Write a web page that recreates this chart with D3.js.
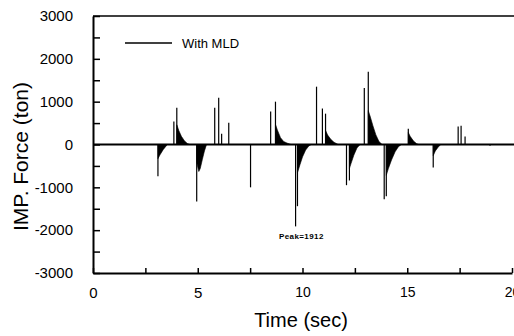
<!DOCTYPE html>
<html>
<head>
<meta charset="utf-8">
<script src="https://cdn.jsdelivr.net/npm/d3@7"></script>
<style>
  body { margin: 0; background: #fff; }
  svg { display: block; font-family: Arial, "Liberation Sans", sans-serif; }
  .axis path, .axis line { stroke: #000; }
  .axis text { font-size: 15px; fill: #000; }
</style>
</head>
<body>
<div id="graph"></div>
<script>
// Impact spikes: time (sec) and peak force (ton)
const spikeTime  = [3.10, 3.86, 4.00, 4.95, 5.81, 6.00, 6.14, 6.48, 7.52, 8.48, 8.71, 9.67, 9.76,
                    10.67, 10.95, 11.10, 12.10, 12.24, 12.95, 13.14, 13.90, 14.00, 15.05, 16.24,
                    17.43, 17.57, 17.76, 18.95];
const spikeForce = [-744, 535, 860, -1330, 860, 1090, 250, 510, -1000, 770, 1000, -1912, -1440,
                    1350, 840, 720, -950, -840, 1320, 1700, -1280, -1210, 370, -535,
                    420, 440, 185, -30];

// Decaying tails after the main impacts, [time, force]
const tail1  = [[3.10, -330], [3.20, -240], [3.35, -120], [3.55, 0]];
const tail2  = [[4.00, 460], [4.10, 320], [4.22, 190], [4.36, 90], [4.50, 25], [4.62, 0]];
const tail3  = [[4.95, -420], [5.05, -630], [5.12, -560], [5.22, -350], [5.32, -150], [5.42, 0]];
const tail4  = [[8.71, 470], [8.80, 340], [8.95, 160], [9.10, 70], [9.28, 30], [9.45, 0]];
const tail5  = [[9.76, -660], [9.88, -470], [10.00, -290], [10.15, -130], [10.30, -35], [10.42, 0]];
const tail6  = [[11.10, 330], [11.20, 220], [11.35, 120], [11.50, 55], [11.70, 0]];
const tail7  = [[12.24, -560], [12.32, -440], [12.45, -250], [12.60, -80], [12.75, 0]];
const tail8  = [[13.14, 790], [13.24, 640], [13.36, 440], [13.50, 230], [13.65, 70], [13.80, 0]];
const tail9  = [[14.00, -720], [14.10, -560], [14.25, -360], [14.42, -170], [14.58, -50], [14.72, 0]];
const tail10 = [[15.05, 280], [15.14, 190], [15.30, 80], [15.45, 20], [15.55, 0]];
const tail11 = [[16.24, -260], [16.34, -150], [16.48, -60], [16.60, 0]];
const tails = [tail1, tail2, tail3, tail4, tail5, tail6, tail7, tail8, tail9, tail10, tail11];

// Axis ticks
const xTicks = [0, 2.5, 5, 7.5, 10, 12.5, 15, 17.5, 20];
const xLabels = [0, 5, 10, 15, 20];
const yTicks = [-3000, -2500, -2000, -1500, -1000, -500, 0, 500, 1000, 1500, 2000, 2500, 3000];
const yLabels = [-3000, -2000, -1000, 0, 1000, 2000, 3000];

const width = 514;
const height = 336;
const margin = { top: 16, right: 2, bottom: 63, left: 93 };
const graphWidth = width - margin.left - margin.right;
const graphHeight = height - margin.top - margin.bottom;

const svg = d3.select('#graph')
  .append('svg')
  .attr('width', width)
  .attr('height', height);

const xScale = d3.scaleLinear().domain([0, 20]).range([margin.left, margin.left + graphWidth]);
const yScale = d3.scaleLinear().domain([-3000, 3000]).range([margin.top + graphHeight, margin.top]);

// Decay tails, filled black
const area = d3.area()
  .x(d => xScale(d[0]))
  .y0(yScale(0))
  .y1(d => yScale(d[1]));

svg.append('g')
  .selectAll('path')
  .data(tails)
  .enter()
  .append('path')
  .attr('d', area)
  .style('fill', '#000')
  .style('stroke', '#000')
  .style('stroke-width', 0.6);

// Impact spikes
svg.append('g')
  .selectAll('line')
  .data(spikeTime)
  .enter()
  .append('line')
  .attr('x1', d => xScale(d))
  .attr('x2', d => xScale(d))
  .attr('y1', yScale(0))
  .attr('y2', (d, i) => yScale(spikeForce[i]))
  .style('stroke', '#000')
  .style('stroke-width', 1.2);

// Zero line
svg.append('line')
  .attr('x1', xScale(0))
  .attr('x2', width)
  .attr('y1', yScale(0))
  .attr('y2', yScale(0))
  .style('stroke', '#000')
  .style('stroke-width', 2);

// Top border
svg.append('line')
  .attr('x1', xScale(0))
  .attr('x2', width)
  .attr('y1', margin.top)
  .attr('y2', margin.top)
  .style('stroke', '#000')
  .style('stroke-width', 1.5);

// Axis X
const xAxis = d3.axisBottom(xScale)
  .tickValues(xTicks)
  .tickSize(-5)
  .tickSizeOuter(0)
  .tickPadding(14)
  .tickFormat(d => xLabels.includes(d) ? d : '');

const gx = svg.append('g')
  .attr('class', 'axis')
  .attr('transform', `translate(0, ${margin.top + graphHeight})`)
  .call(xAxis);
gx.select('.domain').style('stroke-width', 2);
gx.selectAll('line').style('stroke-width', 1.5);
gx.selectAll('text')
  .filter(d => d >= 10)
  .style('font-family', '"Liberation Sans Narrow", "Arial Narrow", sans-serif')
  .style('font-size', '14px');

// Axis Y
const yAxis = d3.axisLeft(yScale)
  .tickValues(yTicks)
  .tickSize(-7)
  .tickSizeOuter(0)
  .tickPadding(20)
  .tickFormat(d => yLabels.includes(d) ? d : '');

const gy = svg.append('g')
  .attr('class', 'axis')
  .attr('transform', `translate(${margin.left}, 0)`)
  .call(yAxis);
gy.select('.domain').style('stroke-width', 2);
gy.selectAll('line').style('stroke-width', 1.5);

// Axis titles
svg.append('text')
  .attr('transform', `translate(28, ${yScale(0) + 12}) rotate(-90)`)
  .attr('text-anchor', 'middle')
  .style('font-size', '21px')
  .text('IMP. Force (ton)');

svg.append('text')
  .attr('x', 301)
  .attr('y', 327)
  .attr('text-anchor', 'middle')
  .style('font-size', '20px')
  .text('Time (sec)');

// Legend
svg.append('line')
  .attr('x1', 125)
  .attr('x2', 172)
  .attr('y1', 43)
  .attr('y2', 43)
  .style('stroke', '#000')
  .style('stroke-width', 1.3);

svg.append('text')
  .attr('x', 182)
  .attr('y', 48)
  .style('font-size', '13px')
  .text('With MLD');

// Peak annotation
svg.append('text')
  .attr('x', 279)
  .attr('y', 239)
  .style('font-size', '8px')
  .style('font-weight', 'bold')
  .style('letter-spacing', '0.4px')
  .text('Peak=1912');
</script>
</body>
</html>
